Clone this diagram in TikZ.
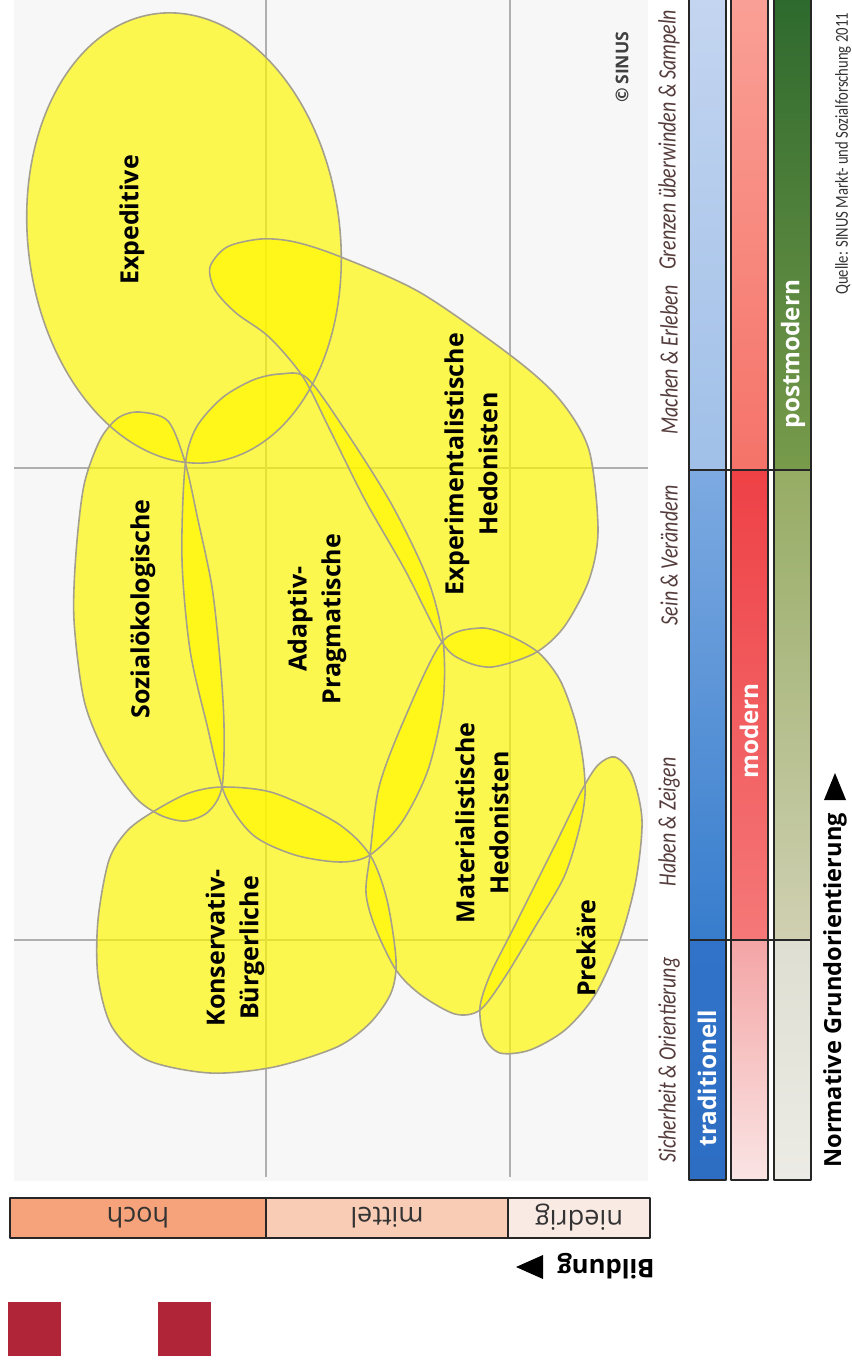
\documentclass[tikz,border=0pt]{standalone}
\usepackage{fontspec}
\setmainfont{Open Sans}
\newfontfamily\condfont[FakeStretch=0.8]{Carlito}
\definecolor{blobfill}{RGB}{255,248,0}
\definecolor{blobline}{RGB}{165,160,140}
\definecolor{gridline}{RGB}{175,175,175}
\definecolor{plotbg}{RGB}{247,247,247}
\definecolor{axistext}{RGB}{85,60,60}
\definecolor{sinusred}{RGB}{176,38,56}
\definecolor{hochcol}{RGB}{246,162,122}
\definecolor{mittelcol}{RGB}{249,204,182}
\definecolor{niedrigcol}{RGB}{250,234,228}
\tikzset{
  blob/.style={fill=blobfill, fill opacity=0.68},
  blobedge/.style={draw=blobline, line width=0.45pt},
  gridrule/.style={draw=gridline, line width=0.4pt},
  barborder/.style={draw=black!85, line width=0.65pt},
  milieu/.style={rotate=90, align=center, font=\fontsize{7.1}{9.6}\selectfont\bfseries},
  axislabel/.style={rotate=90, text=axistext, font=\condfont\itshape\fontsize{7.1}{8}\selectfont},
  bartext/.style={rotate=90, text=white, font=\fontsize{6.9}{8}\selectfont\bfseries},
  levellabel/.style={rotate=180, text=black!80, font=\fontsize{7.7}{9}\selectfont}
}
% outlines of the milieus
\newcommand\pathExpeditive{[rotate around={7:(184,238)}] (184,238) ellipse [x radius=156, y radius=226]}
\newcommand\pathExperimental{plot[smooth cycle] coordinates {(210,267) (227,247) (261,239) (295,242) (341,257) (421,293) (514,358) (560,400) (589,450) (598,530) (589,580) (564,627) (535,653) (492,667) (462,660) (442,642) (405,570) (365,500) (330,430) (303,377) (269,337) (236,313) (215,290)}}
\newcommand\pathSozial{plot[smooth cycle] coordinates {(139,412) (168,421) (185,462) (198,520) (212,587) (220,660) (224,725) (222,787) (208,812) (185,821) (160,815) (135,797) (105,753) (84,700) (74,620) (76,553) (84,485) (100,440) (118,418)}}
\newcommand\pathAdaptiv{plot[smooth cycle] coordinates {(185,467) (196,428) (222,398) (253,380) (280,374) (307,378) (345,430) (392,505) (428,580) (443,640) (443,703) (428,770) (402,822) (370,855) (340,862) (295,855) (253,835) (225,795) (207,725) (190,650) (182,560)}}
\newcommand\pathKonservativ{plot[smooth cycle] coordinates {(156,810) (189,793) (223,787) (274,793) (337,823) (370,855) (387,900) (396,960) (391,993) (370,1023) (337,1047) (274,1067) (210,1073) (147,1060) (112,1027) (98,977) (98,920) (109,860) (128,830)}}
\newcommand\pathMateriell{plot[smooth cycle] coordinates {(442,642) (480,628) (510,636) (539,653) (560,680) (575,720) (583,760) (585,795) (579,830) (564,877) (535,927) (505,977) (480,1010) (455,1014) (421,995) (396,970) (375,927) (366,893) (370,855) (379,787) (404,720)}}
\newcommand\pathPrekaer{plot[smooth cycle] coordinates {(615,757) (632,775) (642,820) (636,880) (620,940) (595,995) (565,1030) (530,1050) (500,1053) (484,1037) (480,1007) (490,975) (510,935) (535,885) (560,835) (582,790) (598,765)}}
\begin{document}
\begin{tikzpicture}[x=0.01cm, y=-0.01cm, line join=round]
\useasboundingbox (0,0) rectangle (852,1361);
% plot area with grid
\fill[plotbg] (14,0) rectangle (648,1181);
\foreach \y in {468,940} \draw[gridrule] (14,\y) -- (648,\y);
\foreach \x in {266,510} \draw[gridrule] (\x,0) -- (\x,1177);
% milieus: fills first, outlines on top
\foreach \p in {\pathExpeditive,\pathExperimental,\pathSozial,\pathAdaptiv,\pathKonservativ,\pathMateriell,\pathPrekaer} \fill[blob] \p;
\foreach \p in {\pathExpeditive,\pathExperimental,\pathSozial,\pathAdaptiv,\pathKonservativ,\pathMateriell,\pathPrekaer} \draw[blobedge] \p;
\node[milieu] (expeditive) at (132,220) {Expeditive};
\node[milieu] (experimental) at (471,464) {Experimentalistische\\Hedonisten};
\node[milieu] (sozial) at (143,609) {Sozialökologische};
\node[milieu] (adaptiv) at (317,619) {Adaptiv-\\Pragmatische};
\node[milieu] (materiell) at (482,823) {Materialistische\\Hedonisten};
\node[milieu] (konservativ) at (235,948) {Konservativ-\\Bürgerliche};
\node[milieu] (prekaer) at (586,948) {Prekäre};
\node[rotate=90, text=black!75, font=\fontsize{5}{6}\selectfont\bfseries] (sinus) at (622,67) {\textcopyright\,SINUS};
% Grundorientierung bars
\shade[top color={rgb,255:red,196;green,213;blue,240}, bottom color={rgb,255:red,160;green,192;blue,232}] (689,-5) rectangle (726,470);
\shade[top color={rgb,255:red,125;green,170;blue,225}, bottom color={rgb,255:red,55;green,125;blue,205}] (689,470) rectangle (726,940);
\shade[top color={rgb,255:red,48;green,115;blue,200}, bottom color={rgb,255:red,45;green,110;blue,195}] (689,940) rectangle (726,1180);
\shade[top color={rgb,255:red,250;green,160;blue,150}, bottom color={rgb,255:red,245;green,115;blue,105}] (731,-5) rectangle (768,470);
\shade[top color={rgb,255:red,238;green,65;blue,70}, middle color={rgb,255:red,215;green,20;blue,50}, bottom color={rgb,255:red,245;green,120;blue,120}] (731,470) rectangle (768,940);
\shade[top color={rgb,255:red,244;green,165;blue,165}, bottom color={rgb,255:red,250;green,228;blue,228}] (731,940) rectangle (768,1180);
\shade[top color={rgb,255:red,45;green,105;blue,45}, bottom color={rgb,255:red,120;green,155;blue,75}] (774,-5) rectangle (811,470);
\shade[top color={rgb,255:red,150;green,172;blue,100}, bottom color={rgb,255:red,208;green,208;blue,178}] (774,470) rectangle (811,940);
\shade[top color={rgb,255:red,222;green,222;blue,210}, bottom color={rgb,255:red,236;green,236;blue,230}] (774,940) rectangle (811,1180);
\foreach \x in {689,731,774} \draw[barborder] (\x,-5) rectangle (\x+37,1180);
\foreach \y in {470,940} \draw[barborder] (689,\y) -- (811,\y);
\node[bartext] (traditionell) at (707,1078) {traditionell};
\node[bartext] (modern) at (749,731) {modern};
\node[bartext] (postmodern) at (793,354) {postmodern};
\foreach \y/\t [count=\i] in {1060/Sicherheit \& Orientierung, 822/Haben \& Zeigen, 555/Sein \& Verändern, 360/Machen \& Erleben, 140/Grenzen überwinden \& Sampeln}
  \node[axislabel] (orient\i) at (669,\y) {\t};
\node[rotate=90, anchor=west, font=\fontsize{6.7}{8}\selectfont\bfseries] (normativ) at (835,1180) {Normative Grundorientierung};
\fill (824,800) -- (835,773) -- (846,800) -- cycle;
\node[rotate=90, anchor=west, text=black!80, font=\condfont\fontsize{5.2}{6}\selectfont] (quelle) at (843,307) {Quelle: SINUS Markt- und Sozialforschung 2011};
% Bildung scale
\fill[hochcol] (10,1198) rectangle (266,1238);
\fill[mittelcol] (266,1198) rectangle (508,1238);
\fill[niedrigcol] (508,1198) rectangle (650,1238);
\draw[barborder] (10,1198) rectangle (650,1238);
\foreach \x in {266,508} \draw[barborder] (\x,1198) -- (\x,1238);
\node[levellabel] (hoch) at (138,1218) {hoch};
\node[levellabel] (mittel) at (387,1218) {mittel};
\node[levellabel] (niedrig) at (579,1218) {niedrig};
\node[rotate=180, font=\fontsize{7.3}{9}\selectfont\bfseries] (bildung) at (606,1266) {Bildung};
\fill (516,1267) -- (543,1255) -- (543,1279) -- cycle;
% logo squares
\fill[sinusred] (8,1302) rectangle (61,1356);
\fill[sinusred] (158,1302) rectangle (211,1356);
\end{tikzpicture}
\end{document}
